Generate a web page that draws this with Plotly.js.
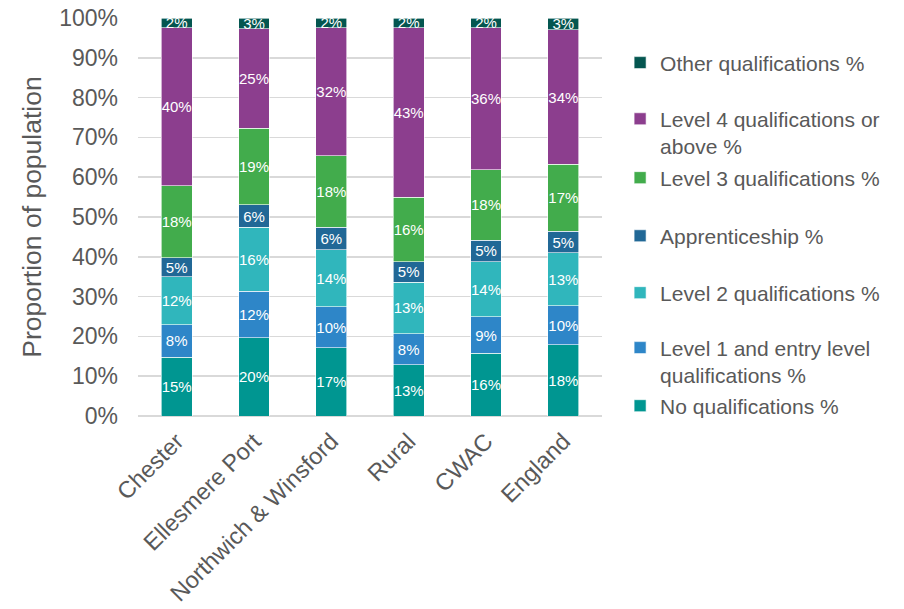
<!DOCTYPE html>
<html>
<head>
<meta charset="utf-8">
<script src="https://cdn.plot.ly/plotly-3.0.1.min.js"></script>
<style>html,body{margin:0;padding:0;background:#fff;}#chart{width:904px;height:609px;}</style>
</head>
<body>
<div id="chart"></div>
<script>
const categories = ['Chester', 'Ellesmere Port', 'Northwich & Winsford', 'Rural', 'CWAC', 'England'];
const seriesNames = [
  'No qualifications %',
  'Level 1 and entry level<br>qualifications %',
  'Level 2 qualifications %',
  'Apprenticeship %',
  'Level 3 qualifications %',
  'Level 4 qualifications or<br>above %',
  'Other qualifications %'
];
const noQual = [14.8, 19.6, 17.1, 12.9, 15.8, 17.9];
const level1 = [8.1, 11.7, 10.3, 7.8, 9.1, 9.8];
const level2 = [12.1, 16.1, 14.4, 12.9, 13.9, 13.3];
const apprenticeship = [4.7, 5.7, 5.6, 5.2, 5.4, 5.4];
const level3 = [18.2, 19.2, 18.0, 16.2, 17.7, 16.8];
const level4 = [39.7, 25.0, 32.2, 42.6, 35.7, 33.9];
const other = [2.4, 2.7, 2.4, 2.4, 2.4, 2.9];
const yTickValues = [0, 10, 20, 30, 40, 50, 60, 70, 80, 90, 100];
const yTickLabels = ['0%', '10%', '20%', '30%', '40%', '50%', '60%', '70%', '80%', '90%', '100%'];

const seriesValues = [noQual, level1, level2, apprenticeship, level3, level4, other];
const colors = ['#009691', '#2E86C8', '#30B6BC', '#216896', '#42AC4C', '#8C3E8E', '#045650'];
const legendIds = ['legend7', 'legend6', 'legend5', 'legend4', 'legend3', 'legend2', 'legend'];
const legendY = [0.025, 0.137, 0.309, 0.452, 0.598, 0.712, 0.887];

const FONT = '"Liberation Sans", Arial, sans-serif';
const GREY = '#595959';

const traces = seriesValues.map((vals, i) => ({
  type: 'bar',
  name: seriesNames[i],
  x: categories,
  y: vals,
  marker: { color: colors[i], line: { color: '#ffffff', width: 0.6 } },
  texttemplate: '%{y:.0f}%',
  textposition: 'inside',
  insidetextanchor: 'middle',
  constraintext: 'none',
  textangle: 0,
  insidetextfont: { family: FONT, size: 15, color: '#ffffff' },
  legend: legendIds[i],
  hoverinfo: 'x+y+name'
}));

const layout = {
  width: 904,
  height: 609,
  margin: { l: 138, r: 302, t: 18, b: 193, autoexpand: false },
  paper_bgcolor: '#ffffff',
  plot_bgcolor: '#ffffff',
  barmode: 'stack',
  bargap: 0.6,
  font: { family: FONT, color: GREY },
  showlegend: true,
  xaxis: {
    type: 'category',
    tickangle: -45,
    tickfont: { family: FONT, size: 23.5, color: GREY },
    showgrid: false,
    showline: false,
    ticks: '',
    ticklabelstandoff: 6,
    automargin: false
  },
  yaxis: {
    range: [0, 100],
    tickmode: 'array',
    tickvals: yTickValues,
    ticktext: yTickLabels,
    tickfont: { family: FONT, size: 23, color: GREY },
    showgrid: true,
    gridcolor: '#D9D9D9',
    gridwidth: 1.5,
    zeroline: true,
    zerolinecolor: '#D9D9D9',
    zerolinewidth: 1.5,
    showline: false,
    ticks: '',
    ticklabelstandoff: 19,
    automargin: false,
    title: { text: 'Proportion of population', standoff: 9, font: { family: FONT, size: 26.5, color: GREY } }
  }
};

legendIds.forEach((id, i) => {
  layout[id] = {
    x: 1.039,
    xanchor: 'left',
    y: legendY[i],
    yanchor: 'middle',
    valign: 'top',
    bgcolor: 'rgba(0,0,0,0)',
    borderwidth: 0,
    font: { family: FONT, size: 21, color: GREY }
  };
});

Plotly.newPlot('chart', traces, layout, { displayModeBar: false, staticPlot: true });
</script>
</body>
</html>
